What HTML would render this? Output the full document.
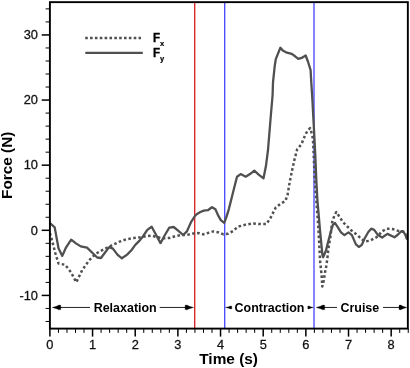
<!DOCTYPE html><html><head><meta charset="utf-8"><style>html,body{margin:0;padding:0;background:#fff;}svg{display:block;will-change:transform;}text{font-family:"Liberation Sans",sans-serif;}</style></head><body>
<svg width="410" height="368" viewBox="0 0 410 368">
<defs><clipPath id="pc"><rect x="49.9" y="2.1" width="358.0" height="326.5"/></clipPath></defs>
<line x1="194.7" y1="2.15" x2="194.7" y2="328.6" stroke="#d82226" stroke-width="1.35"/>
<line x1="224.7" y1="2.15" x2="224.7" y2="328.6" stroke="#4a4aff" stroke-width="1.35"/>
<line x1="314.0" y1="2.15" x2="314.0" y2="328.6" stroke="#4a4aff" stroke-width="1.35"/>
<g clip-path="url(#pc)" fill="none" stroke="#505050" stroke-linejoin="round">
<polyline points="49.9,233.0 51.8,239.7 55.6,254.0 58.5,263.5 65.1,264.8 70.8,272.0 76.3,282.3 82.2,270.1 88.9,260.6 95.5,254.0 99.5,251.6 105.4,248.6 111.4,245.6 118.9,241.9 126.3,239.3 133.8,238.1 139.8,237.4 145.9,236.2 151.7,235.7 157.6,237.3 163.4,238.3 169.3,238.0 175.1,236.2 181.0,235.0 186.9,235.0 192.7,233.6 198.4,233.0 203.2,234.4 208.6,232.8 213.3,231.4 218.8,232.4 223.5,234.4 228.3,233.7 233.0,231.0 238.0,226.7 245.7,224.6 253.3,223.5 260.9,224.1 266.3,224.1 270.2,218.5 275.7,207.6 281.1,203.3 285.4,201.1 287.6,194.6 289.8,181.5 292.0,170.7 294.5,159.4 297.2,149.2 301.3,144.5 304.7,136.3 307.4,130.9 310.1,128.2 312.4,135.5 313.2,143.0 313.6,152.9 314.5,175.0 315.9,195.0 318.5,230.0 320.2,262.6 321.5,274.0 322.3,286.5 323.5,282.0 325.0,272.4 326.5,265.0 327.5,257.0 328.5,248.0 330.5,236.0 332.2,222.0 334.2,216.1 336.3,212.0 339.0,216.1 343.0,222.2 347.1,226.3 351.2,230.3 354.4,232.7 359.5,237.1 364.6,241.5 369.8,240.7 374.2,238.5 377.8,236.4 381.5,231.7 386.6,228.7 392.5,229.0 398.3,230.9 402.7,231.7 406.4,232.7" stroke-width="2.5" stroke-dasharray="2.6 2.4"/>
<polyline points="49.9,223.0 54.7,227.4 58.5,248.3 62.3,255.9 66.1,247.3 71.2,239.7 75.6,243.1 80.7,246.4 87.0,247.7 93.6,254.0 97.2,257.5 101.0,258.0 104.7,253.0 109.2,247.1 112.9,248.6 117.4,254.6 121.9,258.3 127.1,254.6 131.6,250.0 135.3,244.9 139.8,240.4 142.9,236.5 147.3,229.9 151.7,226.7 156.1,235.0 160.5,243.1 164.9,235.0 169.3,227.7 173.7,227.0 178.1,230.6 183.2,235.0 186.9,231.4 191.2,221.8 194.9,216.0 197.0,214.0 200.4,212.0 203.8,210.6 207.9,210.2 212.0,207.2 215.4,209.3 218.1,215.4 220.8,220.1 224.2,222.9 226.3,217.4 229.0,208.6 231.0,200.4 233.7,189.8 237.0,176.7 240.7,174.1 245.7,176.7 250.0,174.1 254.3,170.7 258.7,174.6 263.5,178.3 265.9,166.3 268.0,150.0 270.5,119.5 272.6,95.0 273.0,82.4 274.7,66.1 275.8,59.2 277.9,53.9 280.4,47.7 282.8,50.6 286.9,52.7 291.8,53.9 295.1,56.3 298.3,58.8 301.6,57.9 305.7,55.5 308.1,62.0 310.6,70.2 311.3,82.4 312.4,100.0 314.0,130.0 315.3,155.0 316.3,180.0 317.4,200.0 320.0,230.0 322.4,255.0 323.1,257.2 326.0,250.5 328.1,242.0 330.8,231.7 332.9,224.9 334.9,222.9 337.6,226.9 341.0,232.4 344.4,235.1 348.5,232.4 351.9,235.1 355.9,244.4 358.8,246.9 361.7,245.1 364.6,238.5 368.3,232.0 371.2,228.7 374.2,229.8 377.8,234.9 382.2,237.5 387.4,233.9 394.5,237.3 398.0,234.5 401.3,231.2 403.3,231.5 405.4,235.0 406.7,238.7 407.8,233.0" stroke-width="2.3"/>
</g>
<rect x="49.9" y="2.15" width="357.95" height="326.45" fill="none" stroke="#000" stroke-width="1.9"/>
<line x1="45.6" y1="321.47" x2="49.9" y2="321.47" stroke="#000" stroke-width="1"/>
<line x1="45.6" y1="308.44" x2="49.9" y2="308.44" stroke="#000" stroke-width="1"/>
<line x1="41.7" y1="295.42" x2="49.9" y2="295.42" stroke="#000" stroke-width="1.5"/>
<text transform="translate(38.00,299.62) scale(1.07,1)" font-size="12" text-anchor="end" fill="#111" stroke="#111" stroke-width="0.25">-10</text>
<line x1="45.6" y1="282.40" x2="49.9" y2="282.40" stroke="#000" stroke-width="1"/>
<line x1="45.6" y1="269.37" x2="49.9" y2="269.37" stroke="#000" stroke-width="1"/>
<line x1="45.6" y1="256.35" x2="49.9" y2="256.35" stroke="#000" stroke-width="1"/>
<line x1="45.6" y1="243.32" x2="49.9" y2="243.32" stroke="#000" stroke-width="1"/>
<line x1="41.7" y1="230.30" x2="49.9" y2="230.30" stroke="#000" stroke-width="1.5"/>
<text transform="translate(38.00,234.50) scale(1.07,1)" font-size="12" text-anchor="end" fill="#111" stroke="#111" stroke-width="0.25">0</text>
<line x1="45.6" y1="217.28" x2="49.9" y2="217.28" stroke="#000" stroke-width="1"/>
<line x1="45.6" y1="204.25" x2="49.9" y2="204.25" stroke="#000" stroke-width="1"/>
<line x1="45.6" y1="191.23" x2="49.9" y2="191.23" stroke="#000" stroke-width="1"/>
<line x1="45.6" y1="178.20" x2="49.9" y2="178.20" stroke="#000" stroke-width="1"/>
<line x1="41.7" y1="165.18" x2="49.9" y2="165.18" stroke="#000" stroke-width="1.5"/>
<text transform="translate(38.00,169.38) scale(1.07,1)" font-size="12" text-anchor="end" fill="#111" stroke="#111" stroke-width="0.25">10</text>
<line x1="45.6" y1="152.16" x2="49.9" y2="152.16" stroke="#000" stroke-width="1"/>
<line x1="45.6" y1="139.13" x2="49.9" y2="139.13" stroke="#000" stroke-width="1"/>
<line x1="45.6" y1="126.11" x2="49.9" y2="126.11" stroke="#000" stroke-width="1"/>
<line x1="45.6" y1="113.08" x2="49.9" y2="113.08" stroke="#000" stroke-width="1"/>
<line x1="41.7" y1="100.06" x2="49.9" y2="100.06" stroke="#000" stroke-width="1.5"/>
<text transform="translate(38.00,104.26) scale(1.07,1)" font-size="12" text-anchor="end" fill="#111" stroke="#111" stroke-width="0.25">20</text>
<line x1="45.6" y1="87.04" x2="49.9" y2="87.04" stroke="#000" stroke-width="1"/>
<line x1="45.6" y1="74.01" x2="49.9" y2="74.01" stroke="#000" stroke-width="1"/>
<line x1="45.6" y1="60.99" x2="49.9" y2="60.99" stroke="#000" stroke-width="1"/>
<line x1="45.6" y1="47.96" x2="49.9" y2="47.96" stroke="#000" stroke-width="1"/>
<line x1="41.7" y1="34.94" x2="49.9" y2="34.94" stroke="#000" stroke-width="1.5"/>
<text transform="translate(38.00,39.14) scale(1.07,1)" font-size="12" text-anchor="end" fill="#111" stroke="#111" stroke-width="0.25">30</text>
<line x1="45.6" y1="21.92" x2="49.9" y2="21.92" stroke="#000" stroke-width="1"/>
<line x1="45.6" y1="8.89" x2="49.9" y2="8.89" stroke="#000" stroke-width="1"/>
<line x1="49.90" y1="328.6" x2="49.90" y2="336.6" stroke="#000" stroke-width="1.5"/>
<text transform="translate(49.90,349.30) scale(1.07,1)" font-size="12" text-anchor="middle" fill="#111" stroke="#111" stroke-width="0.25">0</text>
<line x1="58.43" y1="328.6" x2="58.43" y2="332.9" stroke="#000" stroke-width="1"/>
<line x1="66.96" y1="328.6" x2="66.96" y2="332.9" stroke="#000" stroke-width="1"/>
<line x1="75.50" y1="328.6" x2="75.50" y2="332.9" stroke="#000" stroke-width="1"/>
<line x1="84.03" y1="328.6" x2="84.03" y2="332.9" stroke="#000" stroke-width="1"/>
<line x1="92.56" y1="328.6" x2="92.56" y2="336.6" stroke="#000" stroke-width="1.5"/>
<text transform="translate(92.56,349.30) scale(1.07,1)" font-size="12" text-anchor="middle" fill="#111" stroke="#111" stroke-width="0.25">1</text>
<line x1="101.09" y1="328.6" x2="101.09" y2="332.9" stroke="#000" stroke-width="1"/>
<line x1="109.62" y1="328.6" x2="109.62" y2="332.9" stroke="#000" stroke-width="1"/>
<line x1="118.16" y1="328.6" x2="118.16" y2="332.9" stroke="#000" stroke-width="1"/>
<line x1="126.69" y1="328.6" x2="126.69" y2="332.9" stroke="#000" stroke-width="1"/>
<line x1="135.22" y1="328.6" x2="135.22" y2="336.6" stroke="#000" stroke-width="1.5"/>
<text transform="translate(135.22,349.30) scale(1.07,1)" font-size="12" text-anchor="middle" fill="#111" stroke="#111" stroke-width="0.25">2</text>
<line x1="143.75" y1="328.6" x2="143.75" y2="332.9" stroke="#000" stroke-width="1"/>
<line x1="152.28" y1="328.6" x2="152.28" y2="332.9" stroke="#000" stroke-width="1"/>
<line x1="160.82" y1="328.6" x2="160.82" y2="332.9" stroke="#000" stroke-width="1"/>
<line x1="169.35" y1="328.6" x2="169.35" y2="332.9" stroke="#000" stroke-width="1"/>
<line x1="177.88" y1="328.6" x2="177.88" y2="336.6" stroke="#000" stroke-width="1.5"/>
<text transform="translate(177.88,349.30) scale(1.07,1)" font-size="12" text-anchor="middle" fill="#111" stroke="#111" stroke-width="0.25">3</text>
<line x1="186.41" y1="328.6" x2="186.41" y2="332.9" stroke="#000" stroke-width="1"/>
<line x1="194.94" y1="328.6" x2="194.94" y2="332.9" stroke="#000" stroke-width="1"/>
<line x1="203.48" y1="328.6" x2="203.48" y2="332.9" stroke="#000" stroke-width="1"/>
<line x1="212.01" y1="328.6" x2="212.01" y2="332.9" stroke="#000" stroke-width="1"/>
<line x1="220.54" y1="328.6" x2="220.54" y2="336.6" stroke="#000" stroke-width="1.5"/>
<text transform="translate(220.54,349.30) scale(1.07,1)" font-size="12" text-anchor="middle" fill="#111" stroke="#111" stroke-width="0.25">4</text>
<line x1="229.07" y1="328.6" x2="229.07" y2="332.9" stroke="#000" stroke-width="1"/>
<line x1="237.60" y1="328.6" x2="237.60" y2="332.9" stroke="#000" stroke-width="1"/>
<line x1="246.14" y1="328.6" x2="246.14" y2="332.9" stroke="#000" stroke-width="1"/>
<line x1="254.67" y1="328.6" x2="254.67" y2="332.9" stroke="#000" stroke-width="1"/>
<line x1="263.20" y1="328.6" x2="263.20" y2="336.6" stroke="#000" stroke-width="1.5"/>
<text transform="translate(263.20,349.30) scale(1.07,1)" font-size="12" text-anchor="middle" fill="#111" stroke="#111" stroke-width="0.25">5</text>
<line x1="271.73" y1="328.6" x2="271.73" y2="332.9" stroke="#000" stroke-width="1"/>
<line x1="280.26" y1="328.6" x2="280.26" y2="332.9" stroke="#000" stroke-width="1"/>
<line x1="288.80" y1="328.6" x2="288.80" y2="332.9" stroke="#000" stroke-width="1"/>
<line x1="297.33" y1="328.6" x2="297.33" y2="332.9" stroke="#000" stroke-width="1"/>
<line x1="305.86" y1="328.6" x2="305.86" y2="336.6" stroke="#000" stroke-width="1.5"/>
<text transform="translate(305.86,349.30) scale(1.07,1)" font-size="12" text-anchor="middle" fill="#111" stroke="#111" stroke-width="0.25">6</text>
<line x1="314.39" y1="328.6" x2="314.39" y2="332.9" stroke="#000" stroke-width="1"/>
<line x1="322.92" y1="328.6" x2="322.92" y2="332.9" stroke="#000" stroke-width="1"/>
<line x1="331.46" y1="328.6" x2="331.46" y2="332.9" stroke="#000" stroke-width="1"/>
<line x1="339.99" y1="328.6" x2="339.99" y2="332.9" stroke="#000" stroke-width="1"/>
<line x1="348.52" y1="328.6" x2="348.52" y2="336.6" stroke="#000" stroke-width="1.5"/>
<text transform="translate(348.52,349.30) scale(1.07,1)" font-size="12" text-anchor="middle" fill="#111" stroke="#111" stroke-width="0.25">7</text>
<line x1="357.05" y1="328.6" x2="357.05" y2="332.9" stroke="#000" stroke-width="1"/>
<line x1="365.58" y1="328.6" x2="365.58" y2="332.9" stroke="#000" stroke-width="1"/>
<line x1="374.12" y1="328.6" x2="374.12" y2="332.9" stroke="#000" stroke-width="1"/>
<line x1="382.65" y1="328.6" x2="382.65" y2="332.9" stroke="#000" stroke-width="1"/>
<line x1="391.18" y1="328.6" x2="391.18" y2="336.6" stroke="#000" stroke-width="1.5"/>
<text transform="translate(391.18,349.30) scale(1.07,1)" font-size="12" text-anchor="middle" fill="#111" stroke="#111" stroke-width="0.25">8</text>
<line x1="399.71" y1="328.6" x2="399.71" y2="332.9" stroke="#000" stroke-width="1"/>
<line x1="408.24" y1="328.6" x2="408.24" y2="332.9" stroke="#000" stroke-width="1"/>
<text transform="translate(228.60,363.80) scale(1.07,1)" font-size="14.4" font-weight="bold" text-anchor="middle" fill="#000">Time (s)</text>
<text transform="translate(11.9,165.3) rotate(-90) scale(1.066,1.0)" font-size="14.4" font-weight="bold" text-anchor="middle" fill="#000">Force (N)</text>
<line x1="85.2" y1="38.0" x2="141" y2="38.0" stroke="#505050" stroke-width="2.6" stroke-dasharray="2.6 2.25"/>
<line x1="85.3" y1="52.9" x2="142.8" y2="52.9" stroke="#505050" stroke-width="2.2"/>
<text transform="translate(153.00,41.80) scale(0.97,1)" font-size="12" font-weight="bold" text-anchor="start" fill="#000" stroke="#000" stroke-width="0.35">F</text>
<text transform="translate(160.10,46.00) scale(1.0,1)" font-size="7.5" font-weight="bold" text-anchor="start" fill="#000" stroke="#000" stroke-width="0.2">x</text>
<text transform="translate(153.00,57.20) scale(0.97,1)" font-size="12" font-weight="bold" text-anchor="start" fill="#000" stroke="#000" stroke-width="0.35">F</text>
<text transform="translate(160.10,61.20) scale(1.0,1)" font-size="7.5" font-weight="bold" text-anchor="start" fill="#000" stroke="#000" stroke-width="0.2">y</text>
<line x1="56" y1="307.45" x2="90" y2="307.45" stroke="#222" stroke-width="1"/>
<polygon points="52.30,307.45 56.55,306.25 58.93,305.05 60.80,305.29 60.80,309.61 58.93,309.85 56.55,308.65" fill="#000" stroke="#000" stroke-width="0.3" stroke-linejoin="round"/>
<line x1="159.7" y1="307.45" x2="188" y2="307.45" stroke="#222" stroke-width="1"/>
<polygon points="193.60,307.45 189.35,306.25 186.97,305.05 185.10,305.29 185.10,309.61 186.97,309.85 189.35,308.65" fill="#000" stroke="#000" stroke-width="0.3" stroke-linejoin="round"/>
<text transform="translate(125.20,311.55) scale(1.04,1)" font-size="12" font-weight="bold" text-anchor="middle" fill="#000">Relaxation</text>
<polygon points="225.50,307.45 228.65,306.72 230.41,306.00 231.80,306.14 231.80,308.75 230.41,308.90 228.65,308.18" fill="#000" stroke="#000" stroke-width="0.3" stroke-linejoin="round"/>
<polygon points="313.30,307.45 310.55,306.72 309.01,306.00 307.80,306.14 307.80,308.75 309.01,308.90 310.55,308.18" fill="#000" stroke="#000" stroke-width="0.3" stroke-linejoin="round"/>
<text transform="translate(269.50,311.55) scale(1.04,1)" font-size="12" font-weight="bold" text-anchor="middle" fill="#000">Contraction</text>
<line x1="320" y1="307.45" x2="337" y2="307.45" stroke="#222" stroke-width="1"/>
<polygon points="316.20,307.45 320.45,306.25 322.83,305.05 324.70,305.29 324.70,309.61 322.83,309.85 320.45,308.65" fill="#000" stroke="#000" stroke-width="0.3" stroke-linejoin="round"/>
<line x1="383" y1="307.45" x2="402" y2="307.45" stroke="#222" stroke-width="1"/>
<polygon points="406.80,307.45 402.90,306.25 400.72,305.05 399.00,305.29 399.00,309.61 400.72,309.85 402.90,308.65" fill="#000" stroke="#000" stroke-width="0.3" stroke-linejoin="round"/>
<text transform="translate(359.80,311.55) scale(1.04,1)" font-size="12" font-weight="bold" text-anchor="middle" fill="#000">Cruise</text>
</svg></body></html>
